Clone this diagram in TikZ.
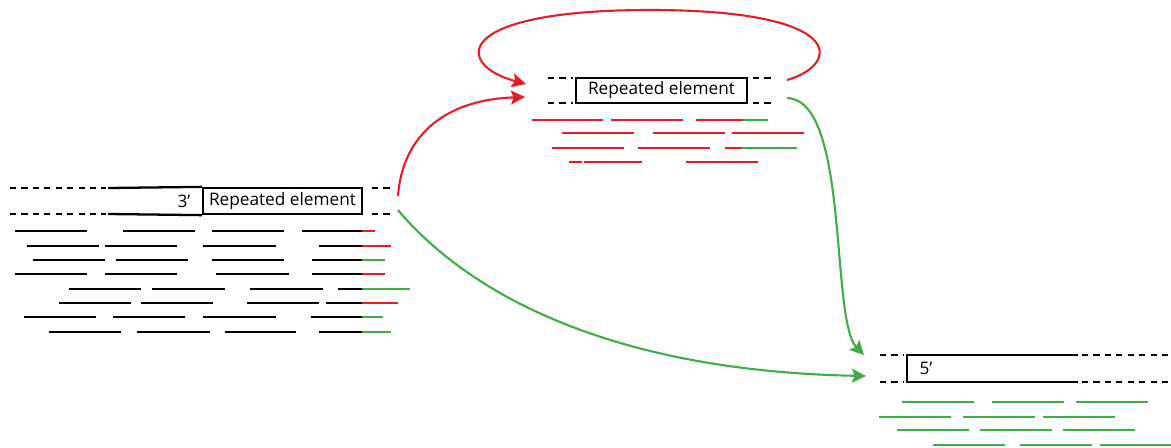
\documentclass[tikz,border=0pt]{standalone}
\usepackage{fontspec}
\setmainfont{Open Sans}
\usetikzlibrary{arrows.meta}
\definecolor{readred}{RGB}{228,30,38}
\definecolor{readgreen}{RGB}{64,173,72}

\begin{document}
\begin{tikzpicture}[x=0.02cm,y=-0.02cm,
    strand/.style={line width=1.3pt},
    gap/.style={line width=1.3pt,dash pattern=on 3.5pt off 3pt},
    read/.style={line width=1.3pt},
    label/.style={inner sep=0pt,font=\fontsize{9.8}{11}\selectfont},
    elem/.style={draw,line width=1.3pt,inner sep=0pt,font=\fontsize{9.8}{11}\selectfont},
    jump/.style={line width=1.2pt,-{Stealth[length=8pt,width=8pt,inset=1.5pt]}}]
  \useasboundingbox (0,0) rectangle (1171,447);

  % left construct: 3' end
  \node[elem,minimum width=3.18cm,minimum height=0.52cm] (rep1) at (282.5,201) {Repeated element};
  \node[label] (three) at (184,201) {3’};
  \draw[strand] (108,188) -- (rep1.north west) (108,214) -- (rep1.south west);
  \draw[gap] (10,188) -- (106,188) (10,214) -- (106,214);
  \draw[gap] (372,188) -- (394,188) (372,214) -- (394,214);

  % reads under the left construct
  \foreach \y/\segs in {231/{15/87,123/195,212/284,302/362},
                        246/{27/99,105/177,203/276,319/362},
                        260/{33/105,116/188,212/284,312/362},
                        274/{15/87,105/177,216/289,312/362},
                        289/{69/141,152/225,250/323,338/362},
                        303/{59/131,141/213,247/319,326/362},
                        317/{24/96,113/185,203/276,311/362},
                        332/{49/121,137/210,225/296,319/362}}{
    \foreach \a/\b in \segs {\draw[read] (\a,\y) -- (\b,\y);}
  }
  \foreach \y/\e/\c in {231/375/readred,246/391/readred,260/385/readgreen,
                        274/385/readred,289/410/readgreen,303/398/readred,
                        317/383/readgreen,332/391/readgreen}
    \draw[read,\c] (362,\y) -- (\e,\y);

  % top construct
  \node[elem,minimum width=3.42cm,minimum height=0.5cm] (rep2) at (661.5,90.5) {Repeated element};
  \draw[gap] (548,78) -- (573,78) (548,103) -- (573,103);
  \draw[gap] (753,78) -- (775,78) (753,103) -- (775,103);
  \foreach \y/\segs in {120/{532/603,611/683,696/743},
                        133/{562/634,653/725,732/804},
                        148/{552/624,638/710,725/742},
                        162/{569/582,584/642,686/758}}{
    \foreach \a/\b in \segs {\draw[read,readred] (\a,\y) -- (\b,\y);}
  }
  \draw[read,readgreen] (743,120) -- (768,120) (742,148) -- (797,148);

  % bottom construct: 5' end
  \node[label] (five) at (926,368) {5’};
  \draw[strand] (1078,355) -- (907,355) -- (907,382) -- (1078,382);
  \draw[gap] (880,355) -- (904,355) (880,382) -- (904,382);
  \draw[gap] (1082,355) -- (1171,355) (1082,382) -- (1171,382);
  \foreach \y/\segs in {402/{902/974,992/1064,1076/1148},
                        417/{879/951,963/1035,1043/1115},
                        430/{897/969,980/1052,1063/1135},
                        445/{933/1005,1020/1092,1100/1171}}{
    \foreach \a/\b in \segs {\draw[read,readgreen] (\a,\y) -- (\b,\y);}
  }

  % connectors
  \coordinate (l3) at (398,196);
  \coordinate (l5) at (398,210);
  \coordinate (t3) at (787,80);
  \coordinate (t5) at (787,98);
  \coordinate (t3in) at (526,84);
  \coordinate (t5in) at (525,97);
  \coordinate (b3in) at (864,355);
  \coordinate (b5in) at (866,376);
  \draw[jump,readred] (l3) .. controls (402,140) and (440,100) .. (t5in);
  \draw[jump,readred] (t3) .. controls (840,65) and (850,10) .. (650,10)
                           .. controls (450,10) and (455,65) .. (t3in);
  \draw[jump,readgreen] (t5) .. controls (850,100) and (830,320) .. (b3in);
  \draw[jump,readgreen] (l5) .. controls (440,260) and (560,370) .. (b5in);
\end{tikzpicture}
\end{document}
